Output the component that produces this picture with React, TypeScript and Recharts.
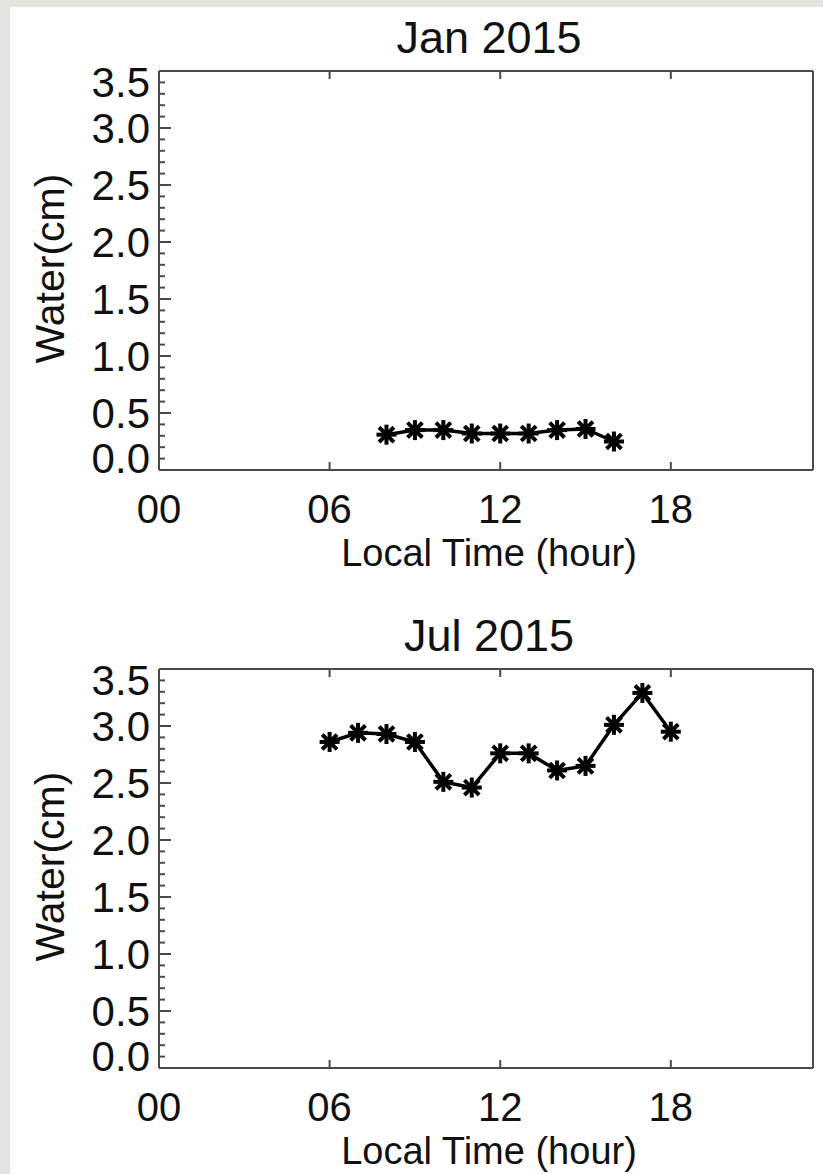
import React from 'react';
import { LineChart, Line, XAxis, YAxis } from 'recharts';

// hours and water values
const janHours = [8, 9, 10, 11, 12, 13, 14, 15, 16];
const janWater = [0.31, 0.35, 0.35, 0.32, 0.32, 0.32, 0.35, 0.36, 0.25];

const julHours = [6, 7, 8, 9, 10, 11, 12, 13, 14, 15, 16, 17, 18];
const julWater = [2.86, 2.94, 2.93, 2.86, 2.51, 2.46, 2.76, 2.76, 2.61, 2.65, 3.01, 3.29, 2.95];

const xTicks = [0, 6, 12, 18];
const xTopTicks = [6, 12, 18];
const xTickLabels = ['00', '06', '12', '18'];

const yMajorTicks = [0, 0.5, 1, 1.5, 2, 2.5, 3, 3.5];
const yTickLabels = ['0.0', '0.5', '1.0', '1.5', '2.0', '2.5', '3.0', '3.5'];
const yTicks = [
  0, 0.1, 0.2, 0.3, 0.4, 0.5, 0.6, 0.7, 0.8, 0.9, 1, 1.1, 1.2, 1.3, 1.4, 1.5, 1.6, 1.7,
  1.8, 1.9, 2, 2.1, 2.2, 2.3, 2.4, 2.5, 2.6, 2.7, 2.8, 2.9, 3, 3.1, 3.2, 3.3, 3.4, 3.5,
];

const FONT = '"Liberation Sans", Arial, sans-serif';
const AXIS = '#4a4a4a';
const INK = '#111';

const majorIndex = (v: number) => yMajorTicks.findIndex((m) => Math.abs(m - v) < 1e-6);

const YLeftTick = (props: any) => {
  const { x, y, payload } = props;
  const idx = majorIndex(payload.value);
  const len = idx >= 0 ? 12 : 6;
  // end labels sit inside the frame like the original
  let dy = 15;
  if (idx === 0) dy = 3;
  if (idx === yMajorTicks.length - 1) dy = 26;
  return (
    <g>
      <line x1={x} x2={x + len} y1={y} y2={y} stroke={AXIS} strokeWidth={2} />
      {idx >= 0 && (
        <text x={x - 9} y={y + dy} textAnchor="end" fontFamily={FONT} fontSize={42} fill={INK}>
          {yTickLabels[idx]}
        </text>
      )}
    </g>
  );
};

const YRightTick = (props: any) => {
  const { x, y, payload } = props;
  const idx = majorIndex(payload.value);
  const len = idx >= 0 ? 13 : 7;
  return <line x1={x} x2={x - len} y1={y} y2={y} stroke={AXIS} strokeWidth={2} />;
};

const XBottomTick = (props: any) => {
  const { x, y, payload } = props;
  const idx = xTicks.indexOf(payload.value);
  return (
    <g>
      <line x1={x} x2={x} y1={y} y2={y - 8} stroke={AXIS} strokeWidth={2} />
      <text x={x} y={y + 53} textAnchor="middle" fontFamily={FONT} fontSize={40} fill={INK}>
        {xTickLabels[idx]}
      </text>
    </g>
  );
};

const XTopTick = (props: any) => {
  const { x, y } = props;
  return <line x1={x} x2={x} y1={y} y2={y + 8} stroke={AXIS} strokeWidth={2} />;
};

const Star = (props: any) => {
  const { cx, cy, index } = props;
  if (cx == null || cy == null) return <g key={index} />;
  const r = 8;
  const d = 6;
  return (
    <g key={index} stroke="#000" strokeWidth={4} strokeLinecap="square">
      <line x1={cx - r} x2={cx + r} y1={cy} y2={cy} />
      <line x1={cx} x2={cx} y1={cy - r} y2={cy + r} />
      <line x1={cx - d} x2={cx + d} y1={cy - d} y2={cy + d} />
      <line x1={cx - d} x2={cx + d} y1={cy + d} y2={cy - d} />
    </g>
  );
};

function Panel({ title, hours, water }: { title: string; hours: number[]; water: number[] }) {
  const data = hours.map((h, i) => ({ hour: h, water: water[i] }));
  return (
    <LineChart width={823} height={598} data={data} margin={{ top: 70, right: 9, bottom: 127, left: 0 }}>
      <XAxis
        xAxisId="b"
        dataKey="hour"
        type="number"
        domain={[0, 23]}
        ticks={xTicks}
        interval={0}
        height={1}
        tickSize={0}
        tickMargin={0}
        tickLine={false}
        axisLine={{ stroke: AXIS, strokeWidth: 2 }}
        tick={XBottomTick}
        label={(p: any) => {
          const vb = p.viewBox;
          return (
            <text x={vb.x + vb.width / 2 + 3} y={vb.y + 96} textAnchor="middle" fontFamily={FONT} fontSize={38} fill={INK}>
              Local Time (hour)
            </text>
          );
        }}
      />
      <XAxis
        xAxisId="t"
        dataKey="hour"
        type="number"
        orientation="top"
        domain={[0, 23]}
        ticks={xTopTicks}
        interval={0}
        height={1}
        tickSize={0}
        tickMargin={0}
        tickLine={false}
        axisLine={{ stroke: AXIS, strokeWidth: 2 }}
        tick={XTopTick}
        label={(p: any) => {
          const vb = p.viewBox;
          return (
            <text x={vb.x + vb.width / 2 + 3} y={vb.y - 17} textAnchor="middle" fontFamily={FONT} fontSize={45} fill={INK}>
              {title}
            </text>
          );
        }}
      />
      <YAxis
        yAxisId="l"
        type="number"
        domain={[0, 3.5]}
        ticks={yTicks}
        interval={0}
        width={159}
        tickSize={0}
        tickMargin={0}
        tickLine={false}
        axisLine={{ stroke: AXIS, strokeWidth: 2 }}
        tick={YLeftTick}
        label={(p: any) => {
          const vb = p.viewBox;
          const cx = 50;
          const cy = vb.y + vb.height / 2 - 2;
          return (
            <text x={cx} y={cy} textAnchor="middle" dominantBaseline="central" transform={`rotate(-90 ${cx} ${cy})`} fontFamily={FONT} fontSize={41} fill={INK}>
              Water(cm)
            </text>
          );
        }}
      />
      <YAxis
        yAxisId="r"
        orientation="right"
        type="number"
        domain={[0, 3.5]}
        ticks={yTicks}
        interval={0}
        width={1}
        tickSize={0}
        tickMargin={0}
        tickLine={false}
        axisLine={{ stroke: AXIS, strokeWidth: 2 }}
        tick={YRightTick}
      />
      <Line
        xAxisId="b"
        yAxisId="l"
        dataKey="water"
        type="linear"
        stroke="#000"
        strokeWidth={3.5}
        dot={Star}
        activeDot={false}
        isAnimationActive={false}
      />
    </LineChart>
  );
}

export default function App() {
  return (
    <div style={{ position: 'absolute', left: 0, top: 0, width: 823, height: 1174, background: '#e4e4de', overflow: 'hidden' }}>
      <div style={{ position: 'absolute', left: 10, top: 7, width: 813, height: 1167, background: '#fff' }} />
      <div style={{ position: 'absolute', left: 0, top: 0 }}>
        <Panel title="Jan 2015" hours={janHours} water={janWater} />
      </div>
      <div style={{ position: 'absolute', left: 0, top: 598 }}>
        <Panel title="Jul 2015" hours={julHours} water={julWater} />
      </div>
    </div>
  );
}
